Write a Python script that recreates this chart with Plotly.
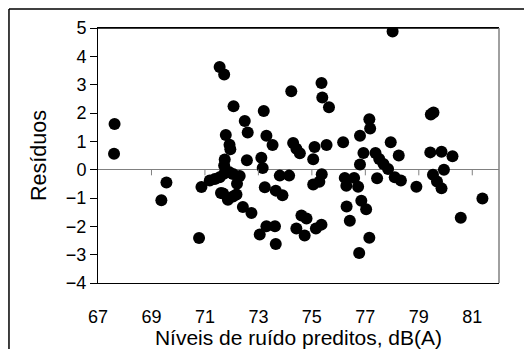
import plotly.graph_objects as go

# Predicted noise level (dB(A)) and residuals
x_pred = [
    67.62, 67.60, 69.37, 69.56, 70.78, 70.87,
    71.55, 71.72, 72.07, 72.49, 72.60, 71.78, 71.92, 71.95, 71.74, 71.72,
    71.18, 71.37, 71.55, 71.72, 71.90, 72.05, 72.30, 72.20,
    71.68, 71.86, 72.18, 71.60, 72.05, 72.42, 72.74, 72.57,
    73.20, 73.30, 73.53, 73.11, 73.16, 73.24, 73.65, 73.90, 73.80, 74.15,
    73.05, 73.30, 73.62, 73.65,
    74.23, 74.30, 74.42, 74.55, 75.05, 75.10, 75.55, 75.36, 75.39, 75.64,
    75.37, 75.28, 75.05,
    74.42, 74.61, 74.80, 74.73, 75.15, 75.36,
    76.17, 76.23, 76.29, 76.30, 76.42, 76.58, 76.73, 76.77, 76.80, 76.80,
    76.93, 77.15, 77.18, 76.85, 77.03, 77.15, 77.38, 77.44, 77.52, 77.68,
    77.85, 77.95, 78.02, 78.25, 78.10, 78.33, 78.91,
    79.45, 79.55, 79.43, 79.85, 80.26, 79.53, 79.68, 79.85, 79.94, 80.57, 81.38,
]
residuals = [
    1.61, 0.56, -1.08, -0.45, -2.41, -0.61,
    3.62, 3.36, 2.24, 1.72, 1.31, 1.22, 0.88, 0.72, 0.36, 0.15,
    -0.38, -0.33, -0.27, -0.14, -0.08, -0.15, -0.22, -0.50,
    -0.84, -1.06, -0.88, -0.82, -0.95, -1.32, -1.53, 0.33,
    2.07, 1.20, 0.87, 0.42, 0.06, -0.62, -0.74, -0.90, -0.21, -0.21,
    -2.29, -2.00, -2.00, -2.62,
    2.77, 0.94, 0.74, 0.58, 0.37, 0.80, 0.87, 3.06, 2.55, 2.20,
    -0.16, -0.43, -0.52,
    -2.08, -1.62, -1.72, -2.32, -2.08, -1.94,
    0.97, -0.29, -0.57, -1.30, -1.80, -0.29, -0.60, -2.94, 0.18, 1.20,
    0.59, 1.78, 1.45, -1.10, -1.40, -2.40, 0.59, -0.30, 0.38, 0.20,
    0.02, 0.97, 4.88, 0.50, -0.27, -0.38, -0.60,
    1.95, 2.02, 0.61, 0.63, 0.47, -0.18, -0.42, -0.66, 0.00, -1.70, -1.02,
]
x_ticks = [67, 69, 71, 73, 75, 77, 79, 81]
y_ticks = [-4, -3, -2, -1, 0, 1, 2, 3, 4, 5]

FONT = "Liberation Sans, Arial, sans-serif"

fig = go.Figure()
fig.add_trace(go.Scatter(
    x=x_pred, y=residuals, mode="markers",
    marker=dict(color="black", size=12, line=dict(width=0)),
    showlegend=False, hoverinfo="x+y",
))

# small tick marks hanging below the y = 0 line (x axis crosses at zero)
tick_shapes = [
    dict(type="line", xref="x", yref="y", x0=t, x1=t, y0=0, y1=-0.2,
         line=dict(color="#808080", width=1))
    for t in x_ticks[1:]
]

fig.update_layout(
    width=524, height=349, autosize=False,
    margin=dict(l=98, r=25, t=28, b=66, autoexpand=False),
    paper_bgcolor="white", plot_bgcolor="white",
    font=dict(family=FONT, color="black"),
    xaxis=dict(
        range=[67, 82], tickvals=x_ticks, ticktext=[str(v) for v in x_ticks],
        ticks="outside", ticklen=17, tickcolor="rgba(0,0,0,0)",
        showline=True, linecolor="black", linewidth=1, mirror=True,
        showgrid=False, zeroline=False, automargin=False,
        tickfont=dict(size=18),
        title=dict(text="Níveis de ruído preditos, dB(A)", font=dict(size=21), standoff=2),
    ),
    yaxis=dict(
        range=[-4, 5], tickvals=y_ticks, ticks="outside", ticklen=7,
        tickcolor="black", showline=True, linecolor="black", linewidth=1,
        showgrid=False, zeroline=True, zerolinecolor="#808080", zerolinewidth=1,
        automargin=False, tickfont=dict(size=18),
        title=dict(text="Resíduos", font=dict(size=21.5), standoff=13),
    ),
    shapes=tick_shapes + [
        # plot-area frame: black top, grey right side
        dict(type="line", xref="paper", yref="paper", x0=0, x1=1, y0=1, y1=1,
             line=dict(color="black", width=1.5)),
        dict(type="line", xref="paper", yref="paper", x0=1, x1=1, y0=0, y1=1,
             line=dict(color="#808080", width=1.5)),
        # outer chart border (left and top edges visible in the crop)
        dict(type="line", xref="paper", yref="paper", x0=-0.222, x1=-0.222, y0=-0.3, y1=1.0745,
             line=dict(color="black", width=1.5)),
        dict(type="line", xref="paper", yref="paper", x0=-0.222, x1=1.1, y0=1.0745, y1=1.0745,
             line=dict(color="black", width=1.5)),
    ],
)

fig.write_html(
    "out.html",
    config={"displayModeBar": False, "responsive": False},
    post_script=(
        "document.body.style.margin='0';"
        "document.body.style.overflow='hidden';"
        "document.documentElement.style.overflow='hidden';"
    ),
)
